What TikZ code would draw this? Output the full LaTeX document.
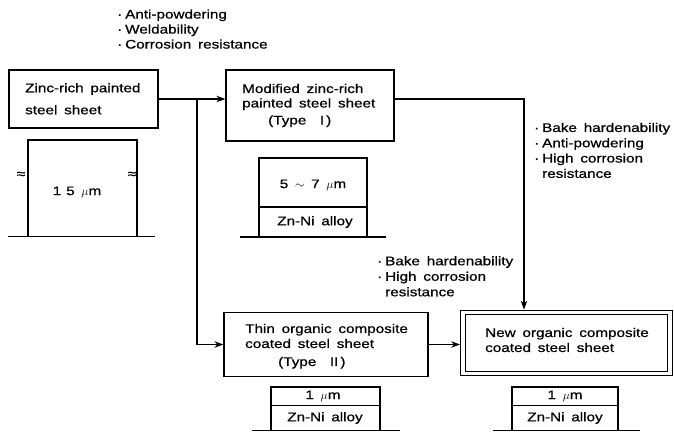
\documentclass[tikz,border=0pt]{standalone}
\usepackage{fontspec}
\setmainfont{Liberation Sans}[FakeStretch=1.22, WordSpace=1.6, FakeBold=0.7]
\usetikzlibrary{arrows.meta}
\newcommand{\bul}{\makebox[8pt][l]{·}}
\newcommand{\ind}{\hspace*{8pt}}
\begin{document}
\begin{tikzpicture}[x=1pt,y=-1pt,
  lw/.style={line width=1.2pt},
  box/.style={draw, lw, rectangle, inner sep=0pt},
  txt/.style={inner sep=0pt, anchor=north west, align=left,
    execute at begin node=\rule{0pt}{9pt}},
  ltxt/.style={inner sep=0pt, font=\fontsize{12.5}{14}\selectfont},
  conn/.style={lw, -{Stealth[length=9pt,width=6.5pt]}},
  plain/.style={lw}]
\useasboundingbox (0,0) rectangle (674,432);

% boxes
\node[box, minimum width=149pt, minimum height=58pt] (A) at (83.5,99) {};
\node[box, minimum width=168pt, minimum height=71pt] (B) at (310,105.5) {};
\node[box, minimum width=204pt, minimum height=64pt] (C) at (326,344.5) {};
\node[draw, line width=1.1pt, double, double distance=3.6pt, rectangle, inner sep=0pt,
  outer sep=2.9pt, minimum width=207pt, minimum height=61pt] (D) at (566.5,343) {};

% box texts
\node[txt, font=\fontsize{12.5}{22}\selectfont] (tA) at (25,83) {Zinc-rich painted\\steel sheet};
\node[txt, font=\fontsize{12.5}{14.5}\selectfont] (tB) at (242,83.7) {Modified zinc-rich\\painted steel sheet\\[2.5pt]\hspace*{26pt}(Type\ \ I\,)};
\node[txt, font=\fontsize{12.5}{15}\selectfont] (tC) at (245,323.7) {Thin organic composite\\coated steel sheet\\[3pt]\hspace*{33pt}(Type\ \ II\,)};
\node[txt, font=\fontsize{12.5}{15}\selectfont] (tD) at (485,327.7) {New organic composite\\coated steel sheet};

% property texts
\node[txt, font=\fontsize{12.5}{15}\selectfont] (p1) at (117,9.3) {\bul Anti-powdering\\\bul Weldability\\\bul Corrosion resistance};
\node[txt, font=\fontsize{12.5}{15.3}\selectfont] (p2) at (534,122.7) {\bul Bake hardenability\\\bul Anti-powdering\\\bul High corrosion\\\ind resistance};
\node[txt, font=\fontsize{12.5}{15.5}\selectfont] (p3) at (377,256) {\bul Bake hardenability\\\bul High corrosion\\\ind resistance};

% connectors
\coordinate (jA) at (197,0);
\coordinate (jD) at (524,0);
\draw[conn] (A.east) -- (B.west |- A.east);
\draw[conn] (jA |- A.east) |- (C.west);
\draw[conn] (B.east |- A.east) -| (jD |- D.north);
\draw[conn] (C.east) -- (C.east -| D.west);

% layer 1 (15 um)
\draw[plain] (8,236.5) -- (155,236.5);
\draw[plain] (28,236.5) -- (28,140) -- (137,140) -- (137,236.5);
\node[ltxt, font=\fontsize{13}{14}\selectfont] (apx1) at (21,175) {≈};
\node[ltxt, font=\fontsize{13}{14}\selectfont] (apx2) at (132,175) {≈};
\node[ltxt] (l1) at (77,192) {1\hspace{5pt}5 $\mu$m};

% layer 2 (5~7 um)
\draw[plain] (240,237) -- (386,237);
\draw[plain] (259,237) -- (259,158) -- (367,158) -- (367,237);
\draw[plain] (259,207) -- (367,207);
\node[ltxt] (l2a) at (313,185) {5 $\sim$ 7 $\mu$m};
\node[ltxt] (l2b) at (315,222) {Zn-Ni alloy};

% layer 3
\draw[plain] (252,430.5) -- (400,430.5);
\draw[plain] (271,430.5) -- (271,387) -- (380,387) -- (380,430.5);
\draw[plain] (271,405.5) -- (380,405.5);
\node[ltxt] (l3a) at (323,396) {1 $\mu$m};
\node[ltxt] (l3b) at (325,418) {Zn-Ni alloy};

% layer 4
\draw[plain] (493,430.5) -- (640,430.5);
\draw[plain] (512,430.5) -- (512,387) -- (618,387) -- (618,430.5);
\draw[plain] (512,405.5) -- (618,405.5);
\node[ltxt] (l4a) at (565,396) {1 $\mu$m};
\node[ltxt] (l4b) at (565,418) {Zn-Ni alloy};
\end{tikzpicture}
\end{document}
